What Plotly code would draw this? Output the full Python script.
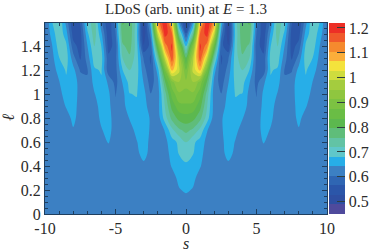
import plotly.graph_objects as go

s_half = [0, .5, 1, 1.5, 2, 2.5, 3, 3.5, 4, 4.5, 5, 5.5, 6, 6.5, 7, 7.5, 8, 8.5, 9, 9.5, 10]
ell = [0, .1, .2, .3, .4, .5, .6, .7, .8, .9, 1.0, 1.1, 1.2, 1.3, 1.4, 1.5, 1.6]
z_half = [
 [.62,.62,.62,.62,.62,.62,.62,.62,.62,.62,.62,.62,.62,.62,.62,.62,.62,.62,.62,.62,.62],
 [.63,.628,.625,.62,.62,.62,.62,.62,.62,.62,.62,.62,.62,.62,.62,.62,.62,.62,.62,.62,.62],
 [.647,.64,.625,.62,.62,.62,.62,.62,.62,.62,.62,.62,.62,.62,.62,.62,.62,.62,.62,.62,.62],
 [.665,.65,.63,.625,.62,.62,.62,.62,.62,.62,.62,.62,.62,.62,.62,.62,.62,.62,.62,.62,.62],
 [.677,.665,.645,.625,.62,.62,.63,.625,.62,.62,.62,.62,.62,.62,.62,.62,.62,.62,.62,.62,.62],
 [.69,.682,.655,.625,.62,.625,.66,.63,.62,.62,.62,.625,.62,.62,.62,.62,.62,.62,.62,.62,.62],
 [.72,.69,.665,.63,.615,.63,.665,.64,.62,.62,.625,.645,.63,.62,.62,.62,.62,.62,.62,.62,.62],
 [.77,.75,.71,.645,.615,.635,.67,.655,.625,.62,.625,.655,.64,.62,.62,.625,.64,.625,.62,.62,.62],
 [.82,.81,.77,.70,.62,.635,.675,.665,.645,.62,.625,.655,.65,.625,.62,.63,.65,.63,.62,.62,.62],
 [.865,.86,.81,.72,.625,.615,.665,.675,.67,.625,.61,.655,.655,.63,.62,.63,.655,.645,.625,.62,.62],
 [.905,.905,.85,.74,.62,.605,.655,.683,.68,.63,.602,.65,.665,.64,.615,.63,.66,.66,.63,.62,.62],
 [.92,.95,.90,.79,.63,.585,.64,.69,.695,.645,.59,.635,.675,.655,.61,.625,.665,.675,.64,.62,.62],
 [.875,1.00,1.08,.87,.66,.57,.62,.70,.72,.68,.59,.58,.685,.675,.60,.60,.655,.685,.66,.62,.615],
 [.80,.98,1.17,1.00,.74,.56,.60,.70,.75,.72,.59,.575,.695,.70,.62,.56,.62,.70,.68,.63,.61],
 [.68,.90,1.19,1.12,.85,.58,.53,.70,.775,.75,.58,.55,.68,.72,.64,.55,.58,.69,.70,.64,.605],
 [.57,.75,1.15,1.20,1.00,.62,.50,.69,.79,.785,.60,.54,.65,.74,.67,.55,.55,.66,.71,.66,.60],
 [.50,.63,1.05,1.22,1.12,.68,.50,.70,.79,.80,.62,.53,.61,.74,.70,.57,.53,.63,.72,.68,.60],
]
band_colors = ["#4f4a9c", "#2e4fa2", "#2b56a9", "#2f66b3", "#3c80c3", "#27aee8", "#5fc7ca",
               "#62c3a5", "#5fbd7a", "#5cb84f", "#6abd45", "#7cc242", "#8fc63f", "#a4cc3e",
               "#cfdc3e", "#f4e33c", "#fbae3a", "#f58a2e", "#f0592b", "#ed2f26"]
x_ticks = [-10, -5, 0, 5, 10]
x_labels = ["-10", "-5", "0", "5", "10"]
y_ticks = [0, .2, .4, .6, .8, 1, 1.2, 1.4]
y_labels = ["0", "0.2", "0.4", "0.6", "0.8", "1", "1.2", "1.4"]
c_ticks = [.5, .6, .7, .8, .9, 1, 1.1, 1.2]
c_labels = ["0.5", "0.6", "0.7", "0.8", "0.9", "1", "1.1", "1.2"]

s_full = [-v for v in s_half[:0:-1]] + s_half
z_full = [row[:0:-1] + row for row in z_half]

n = len(band_colors)
scale = []
for i, c in enumerate(band_colors):
    scale += [[i / n, c], [(i + 1) / n, c]]

FONT = "Liberation Serif"
INK = "#2b2b2b"
AX = "#1f3f5f"
fig = go.Figure(go.Contour(
    x=s_full, y=ell, z=z_full, colorscale=scale, zmin=.45, zmax=1.22,
    autocontour=False,
    contours=dict(start=.45, end=1.22, size=.0385, coloring="fill", showlines=False),
    line=dict(width=0),
    colorbar=dict(thickness=16, thicknessmode="pixels", len=1, lenmode="fraction", y=0, yanchor="bottom",
                  ypad=0, xpad=0, x=1.007, xanchor="left", outlinewidth=0,
                  tickmode="array", tickvals=c_ticks, ticktext=c_labels, ticks="inside", ticklen=8,
                  tickcolor="#2f3f3f", tickwidth=1,
                  tickfont=dict(family=FONT, size=16, color=INK)),
))
axis = dict(showgrid=False, zeroline=False, ticks="inside", mirror="ticks", showline=True,
            linecolor=AX, linewidth=1, tickcolor=AX, tickfont=dict(family=FONT, size=16, color=INK))
W, H, L, R, T, B = 374, 250, 45, 47, 23, 36
fig.update_layout(
    width=W, height=H, margin=dict(l=L, r=R, t=T, b=B, autoexpand=False),
    paper_bgcolor="white", plot_bgcolor="white", showlegend=False,
    font=dict(family=FONT, color=INK),
    title=dict(text="LDoS (arb. unit) at <i>E</i> = 1.3", x=.5, xref="paper", xanchor="center",
               y=.965, yref="container", yanchor="middle",
               font=dict(family=FONT, size=15, color=INK)),
    xaxis=dict(axis, range=[-10, 10], tickmode="array", tickvals=x_ticks, ticktext=x_labels, ticklen=5,
               minor=dict(dtick=1, ticks="inside", ticklen=3, tickcolor=AX)),
    yaxis=dict(axis, range=[0, 1.592], tickmode="array", tickvals=y_ticks, ticktext=y_labels, ticklen=5,
               minor=dict(dtick=.05, ticks="inside", ticklen=3, tickcolor=AX)),
    annotations=[
        dict(text="<i>s</i>", xref="x", yref="paper", x=0, y=0, xanchor="center", yanchor="middle", yshift=-29,
             showarrow=False, font=dict(family=FONT, size=16, color=INK)),
        dict(text="<i>ℓ</i>", xref="paper", yref="y", x=0, y=.8, xanchor="center", yanchor="middle", xshift=-37,
             textangle=-90, showarrow=False, font=dict(family=FONT, size=17, color=INK)),
    ],
)
fig.write_html("out.html", post_script="document.body.style.margin='0';",
               config={"displayModeBar": False})
